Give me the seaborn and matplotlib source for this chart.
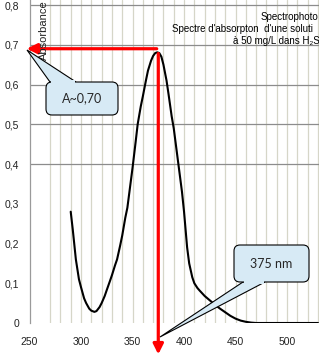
import matplotlib
matplotlib.use("Agg")
import matplotlib.pyplot as plt
import matplotlib.transforms as mtransforms
from matplotlib.patches import FancyBboxPatch, Polygon
import seaborn as sns
import pandas as pd

# ---- data ----
wavelength_nm = [290, 292, 295, 298, 300, 303, 305, 308, 310, 313, 315, 318, 320, 323,
                 325, 328, 330, 333, 335, 338, 340, 343, 345, 348, 350, 353, 355, 358,
                 360, 363, 365, 368, 370, 372, 374, 376, 378, 380, 383, 385, 388, 390,
                 393, 395, 398, 400, 403, 405, 408, 410, 413, 415, 420, 425, 430, 435,
                 440, 445, 450, 455, 460, 465, 470, 480, 490, 500, 510, 520, 530]
absorbance = [0.28, 0.235, 0.16, 0.11, 0.09, 0.062, 0.05, 0.036, 0.031, 0.028, 0.03,
              0.04, 0.05, 0.068, 0.083, 0.105, 0.12, 0.145, 0.16, 0.195, 0.22, 0.265,
              0.29, 0.35, 0.39, 0.455, 0.50, 0.545, 0.57, 0.61, 0.635, 0.66, 0.672,
              0.679, 0.681, 0.679, 0.67, 0.65, 0.61, 0.575, 0.52, 0.49, 0.43, 0.39,
              0.33, 0.28, 0.19, 0.15, 0.115, 0.10, 0.088, 0.082, 0.068, 0.057, 0.046,
              0.036, 0.027, 0.018, 0.011, 0.006, 0.003, 0.001, 0.0, 0.0, 0.0, 0.0,
              0.0, 0.0, 0.0]
x_ticks = [250, 300, 350, 400, 450, 500]
y_ticks = [0, 0.1, 0.2, 0.3, 0.4, 0.5, 0.6, 0.7, 0.8]
y_tick_labels = ["0", "0,1", "0,2", "0,3", "0,4", "0,5", "0,6", "0,7", "0,8"]
peak_nm = 375
peak_A = 0.69
label_A = "A~0,70"
label_nm = "375 nm"
title_lines = ["Spectrophoto", "Spectre d'absorpton  d'une soluti", "à 50 mg/L dans H₂S"]
y_label = "Absorbance"

df = pd.DataFrame({"nm": wavelength_nm, "A": absorbance})

sns.set_theme(style="white")
plt.rcParams["font.family"] = ["Liberation Sans", "DejaVu Sans"]

W, H = 319, 354
fig = plt.figure(figsize=(W / 100, H / 100), dpi=100)
fig.patch.set_facecolor("white")
ax = fig.add_axes([29.5 / W, 31 / H, 1 - 29.5 / W, 323 / H])
ax.set_facecolor("white")

sns.lineplot(data=df, x="nm", y="A", ax=ax, color="black", lw=1.5)

ax.set_xlim(250, 531)
ax.set_ylim(0, 0.8126)
ax.set_xlabel("")
ax.set_ylabel("")

# grid
ax.set_xticks(x_ticks)
ax.set_xticks(list(range(270, 540, 10)), minor=True)
ax.set_yticks(y_ticks)
ax.set_yticklabels(y_tick_labels)
ax.grid(False)
ax.grid(which="both", axis="x", color="#d6d6c8", lw=0.9)
ax.grid(which="major", axis="y", color="#8c8c8c", lw=0.9)
for val, gl in zip(y_ticks, ax.get_ygridlines()):
    if val < 0.35:
        gl.set_visible(False)
for val, gl in zip(x_ticks, ax.get_xgridlines()):
    if val == 250:
        gl.set_visible(False)

for s in ["top", "right", "bottom"]:
    ax.spines[s].set_visible(False)
ax.spines["left"].set_color("#9a9a9a")
ax.spines["left"].set_linewidth(0.9)
ax.tick_params(axis="both", which="both", length=0, labelsize=7.5, labelcolor="#222222")
ax.tick_params(axis="y", pad=7.5)
ax.tick_params(axis="x", pad=10)

# red arrows
ax.annotate("", xy=(247.3, peak_A), xytext=(peak_nm - 1.5, peak_A),
            arrowprops=dict(arrowstyle="-|>", color="red", lw=2.3, mutation_scale=15,
                            shrinkA=0, shrinkB=0), annotation_clip=False)
ax.annotate("", xy=(peak_nm, -0.079), xytext=(peak_nm, 0.678),
            arrowprops=dict(arrowstyle="-|>", color="red", lw=2.3, mutation_scale=15,
                            shrinkA=0, shrinkB=0), annotation_clip=False)

# pixel coordinate transform (x right, y down from top-left)
px = mtransforms.Affine2D().scale(1 / W, -1 / H).translate(0, 1) + fig.transFigure

fill = "#d7eaf5"


def callout(x0, y0, x1, y1, tip, base, edge_y, text, fs):
    wedge = Polygon([tip, (base[0], edge_y), (base[1], edge_y)], closed=True,
                    transform=px, facecolor=fill, edgecolor="black", lw=0.8,
                    zorder=10, clip_on=False)
    fig.add_artist(wedge)
    box = FancyBboxPatch((x0, y0), x1 - x0, y1 - y0,
                         boxstyle="round,pad=0,rounding_size=6", transform=px,
                         facecolor=fill, edgecolor="black", lw=0.8, zorder=11,
                         clip_on=False)
    fig.add_artist(box)
    d = 2 if edge_y == y0 else -2
    cover = Polygon([(base[0] + 0.8, edge_y + d), (base[1] - 0.8, edge_y + d),
                     (base[1] - 0.8, edge_y - d), (base[0] + 0.8, edge_y - d)],
                    closed=True, transform=px, facecolor=fill, edgecolor="none",
                    zorder=12, clip_on=False)
    fig.add_artist(cover)
    fig.text((x0 + x1) / 2 / W, 1 - ((y0 + y1) / 2) / H, text, ha="center",
             va="center", fontsize=fs, family=["Lato", "DejaVu Sans"], zorder=13)


callout(46, 82, 118, 115, (27, 50), (50, 76), 82, label_A, 9)
callout(234, 245, 309, 282, (160, 337), (243, 265), 282, label_nm, 9)

# title (cut off at the right edge as in the reference)
fig.text(261 / W, 1 - 17 / H, title_lines[0], ha="left", va="center", fontsize=7.0, color="black")
fig.text(172 / W, 1 - 29.5 / H, title_lines[1], ha="left", va="center", fontsize=7.0, color="black")
fig.text(233 / W, 1 - 41 / H, title_lines[2], ha="left", va="center", fontsize=7.0, color="black")

fig.text(43.5 / W, 1 - 0.5 / H, y_label, rotation=90, ha="center", va="top",
         fontsize=8, color="#222222")

fig.savefig("out.png", dpi=100)
